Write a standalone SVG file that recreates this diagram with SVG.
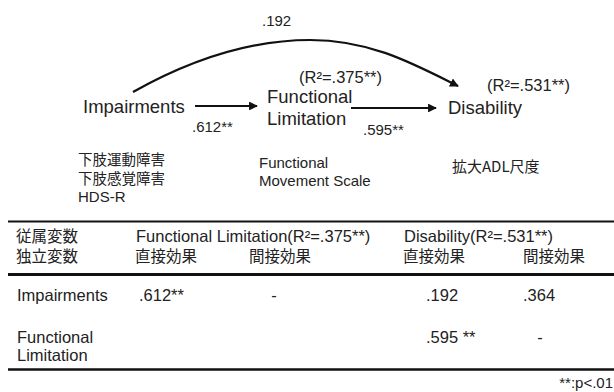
<svg xmlns="http://www.w3.org/2000/svg" width="614" height="392" viewBox="0 0 614 392">
<style>
text{font-family:"Liberation Sans",Arial,"Noto Sans CJK JP",sans-serif;fill:#222}
.node{font-size:18.5px}
.r2{font-size:16.5px}
.coef{font-size:15px}
.meas{font-size:15px}
.mj{font-size:14.5px}
.jp{font-family:"Noto Sans CJK JP","Liberation Sans",sans-serif}
.tb{font-size:16.5px}
.tbj{font-size:15.5px}
.edge{fill:none;stroke:#111;stroke-width:2.2}
.rule{stroke:#111;fill:none}
</style>
<defs>
<marker id="ah" viewBox="0 0 10 10" refX="9" refY="5" markerWidth="4" markerHeight="4" orient="auto" markerUnits="strokeWidth">
<path d="M0,0 L10,5 L0,10 Z" fill="#111"/>
</marker>
</defs>
<rect width="614" height="392" fill="#fff"/>

<g id="connectors">
<path class="edge" d="M133,92 C190,60 250,40 310,40 C370,40 412,63 458,86" marker-end="url(#ah)"/>
<line class="edge" x1="195" y1="106" x2="257" y2="106" marker-end="url(#ah)"/>
<line class="edge" x1="351" y1="108" x2="436" y2="108" marker-end="url(#ah)"/>
<text class="coef" x="262" y="26">.192</text>
<text class="coef" x="192" y="132">.612**</text>
<text class="coef" x="363" y="135">.595**</text>
</g>

<g id="impairments">
<text class="node" x="83" y="113">Impairments</text>
<text class="mj jp" x="78" y="165">下肢運動障害</text>
<text class="mj jp" x="78" y="184">下肢感覚障害</text>
<text class="meas" x="78" y="202">HDS-R</text>
</g>

<g id="functional-limitation">
<text class="r2" x="299" y="83">(R²=.375**)</text>
<text class="node" x="267" y="103">Functional</text>
<text class="node" x="267" y="125">Limitation</text>
<text class="meas" x="259" y="168">Functional</text>
<text class="meas" x="259" y="186">Movement Scale</text>
</g>

<g id="disability">
<text class="r2" x="487" y="91">(R²=.531**)</text>
<text class="node" x="448" y="114">Disability</text>
<text class="meas jp" x="452" y="172">拡大ADL尺度</text>
</g>

<g id="table">
<line class="rule" x1="8" y1="221.5" x2="614" y2="221.5" stroke-width="2.2"/>
<line class="rule" x1="8" y1="274.5" x2="614" y2="274.5" stroke-width="3"/>
<line class="rule" x1="8" y1="369.5" x2="614" y2="369.5" stroke-width="2.6"/>
<text class="tbj jp" x="16" y="242">従属変数</text>
<text class="tbj jp" x="16" y="262">独立変数</text>
<text class="tb" x="136" y="242">Functional Limitation(R²=.375**)</text>
<text class="tbj jp" x="135" y="262">直接効果</text>
<text class="tbj jp" x="249" y="262">間接効果</text>
<text class="tb" x="404" y="242">Disability(R²=.531**)</text>
<text class="tbj jp" x="403" y="262">直接効果</text>
<text class="tbj jp" x="523" y="262">間接効果</text>
<text class="tb" x="17" y="301">Impairments</text>
<text class="tb" x="139" y="301">.612**</text>
<text class="tb" x="274" y="301" text-anchor="middle">-</text>
<text class="tb" x="426" y="301">.192</text>
<text class="tb" x="523" y="301">.364</text>
<text class="tb" x="17" y="343">Functional</text>
<text class="tb" x="17" y="361">Limitation</text>
<text class="tb" x="426" y="343">.595 **</text>
<text class="tb" x="540" y="343" text-anchor="middle">-</text>
<text class="coef" x="613" y="388" text-anchor="end">**:p&lt;.01</text>
</g>
</svg>
